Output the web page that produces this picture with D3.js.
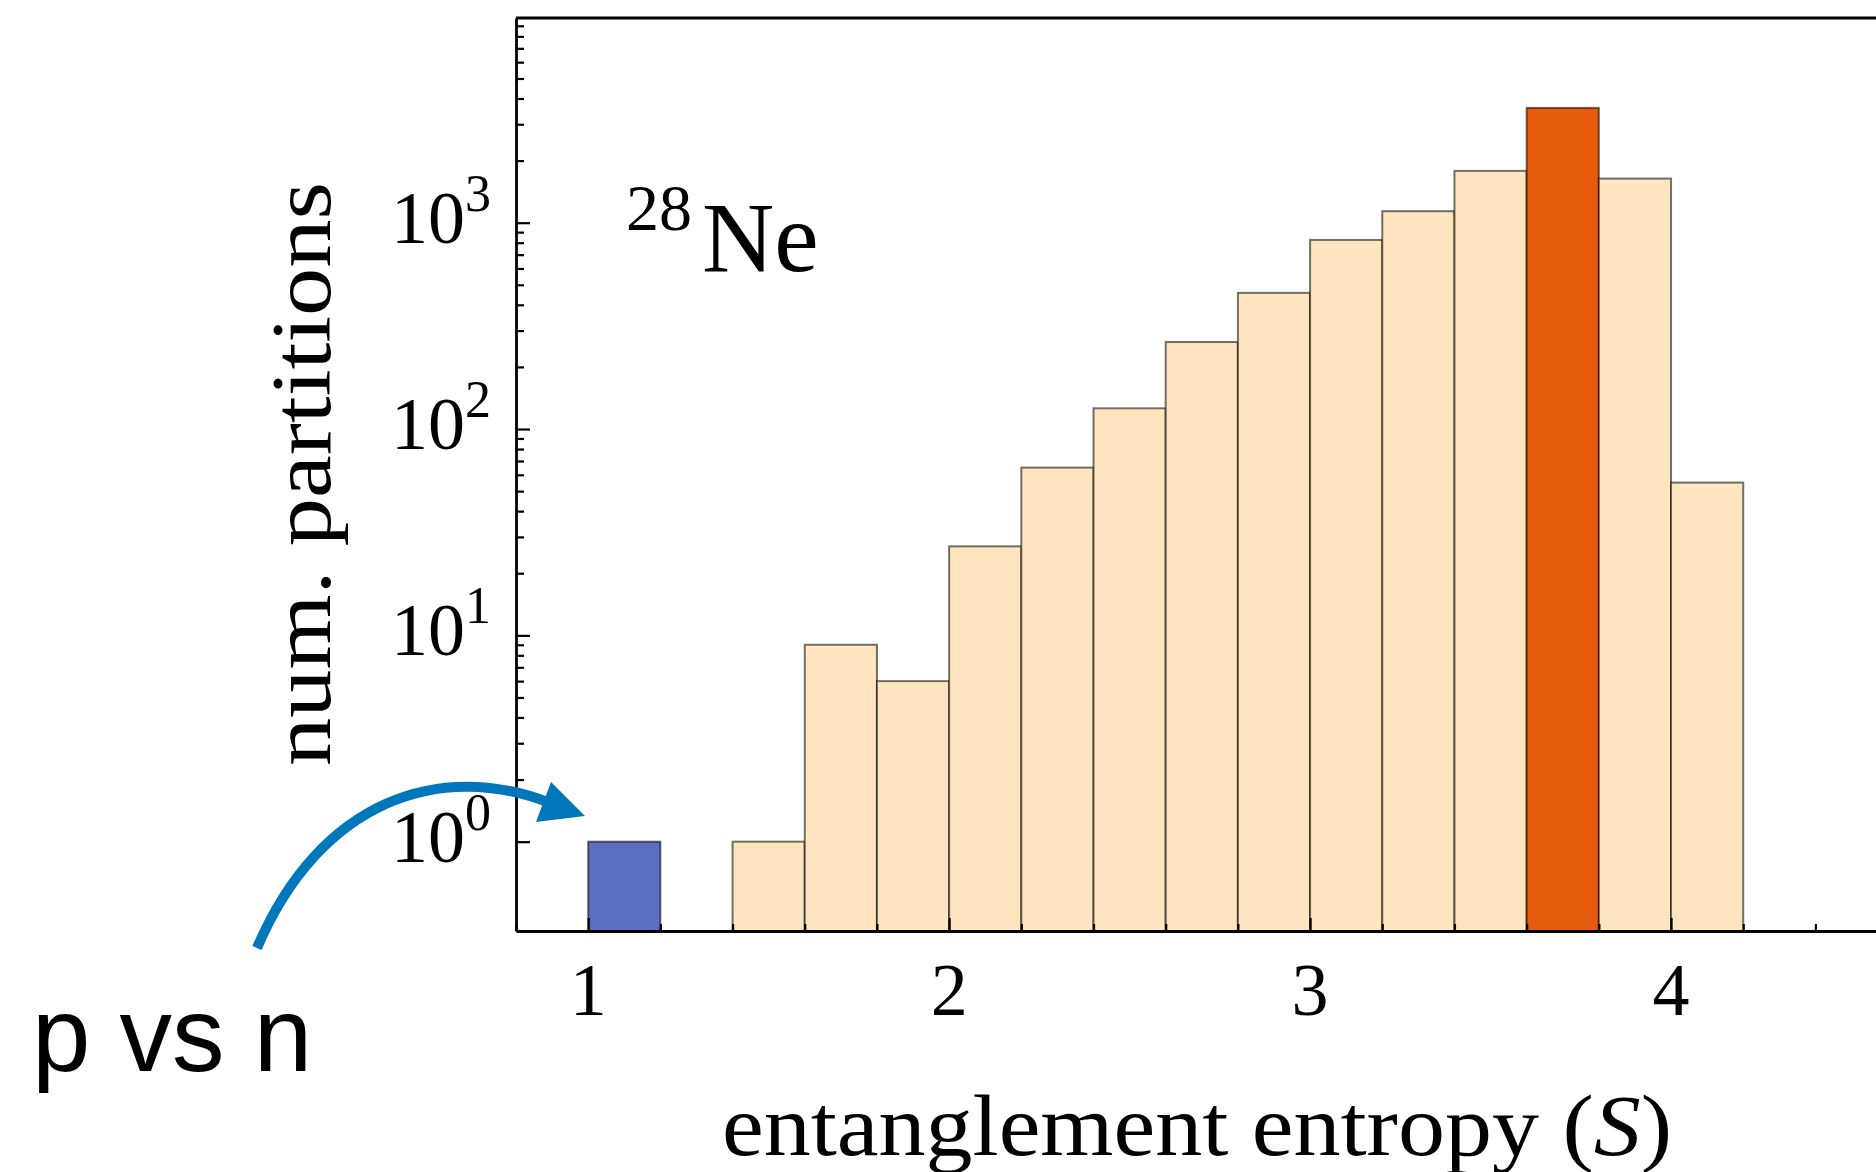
<!DOCTYPE html>
<html>
<head>
<meta charset="utf-8">
<script src="https://cdn.jsdelivr.net/npm/d3@7"></script>
<style>
  body { margin: 0; background: #fff; }
  svg { display: block; }
</style>
</head>
<body>
<div id="chart"></div>
<script>
// histogram of partitions for 28Ne, bins of width 0.2 in entropy S
const binStarts = [1.0, 1.2, 1.4, 1.6, 1.8, 2.0, 2.2, 2.4, 2.6, 2.8, 3.0, 3.2, 3.4, 3.6, 3.8, 4.0];
const binCounts = [1, 0, 1, 9, 6, 27, 65, 126, 264, 457, 825, 1137, 1783, 3602, 1636, 55];
// which bins are highlighted: "pn" = p vs n partition, "max" = most common bin
const binKind = ["pn", "rest", "rest", "rest", "rest", "rest", "rest", "rest",
                 "rest", "rest", "rest", "rest", "rest", "max", "rest", "rest"];
const binWidth = 0.2;

const xTicks = [1, 2, 3, 4];
const xMinorTicks = [0.8, 1.2, 1.4, 1.6, 1.8, 2.2, 2.4, 2.6, 2.8, 3.2, 3.4, 3.6, 3.8, 4.2, 4.4];
const yTicks = [1, 10, 100, 1000];
const yTickExp = ["0", "1", "2", "3"];
const yMinorTicks = [2, 3, 4, 5, 6, 7, 8, 9, 20, 30, 40, 50, 60, 70, 80, 90,
                     200, 300, 400, 500, 600, 700, 800, 900,
                     2000, 3000, 4000, 5000, 6000, 7000, 8000, 9000];

function drawChart() {
    let win_width = 1876;
    let win_height = 1172;

    // plot area (right side runs off the picture)
    let left = 516, top = 18, bottom = 931;

    let svg = d3.select("#chart")
        .append("svg")
        .attr("width", win_width)
        .attr("height", win_height);

    let x = d3.scaleLinear().domain([0.8, 4.6]).range([left, 1887.6]);
    let y = d3.scaleLog().domain([0.369, 9820]).range([bottom, top]);

    let color = d3.scaleOrdinal()
        .domain(["pn", "rest", "max"])
        .range(["#5e6ec2", "#fde6bf", "#e55c0f"]);

    let data = binStarts.map(function(s, i) {
        return {s: s, count: binCounts[i], kind: binKind[i]};
    }).filter(function(d) { return d.count > 0; });

    // bars
    svg.append("g").selectAll("rect")
        .data(data)
        .join("rect")
        .attr("x", function(d) { return x(d.s); })
        .attr("width", function(d) { return x(d.s + binWidth) - x(d.s); })
        .attr("y", function(d) { return y(d.count); })
        .attr("height", function(d) { return bottom - y(d.count); })
        .attr("fill", function(d) { return color(d.kind); })
        .attr("stroke", "#000")
        .attr("stroke-opacity", 0.55)
        .attr("stroke-width", 2);

    // axes: ticks point inward
    svg.append("g")
        .attr("transform", "translate(" + left + ",0)")
        .call(d3.axisLeft(y).tickValues(yTicks).tickSize(-14).tickSizeOuter(0).tickFormat(""));
    svg.append("g")
        .attr("transform", "translate(" + left + ",0)")
        .call(d3.axisLeft(y).tickValues(yMinorTicks).tickSize(-8).tickSizeOuter(0).tickFormat(""))
        .select(".domain").remove();

    svg.append("g")
        .attr("transform", "translate(0," + bottom + ")")
        .call(d3.axisBottom(x).tickValues(xTicks).tickSize(-13).tickSizeOuter(0).tickFormat(""));
    svg.append("g")
        .attr("transform", "translate(0," + bottom + ")")
        .call(d3.axisBottom(x).tickValues(xMinorTicks).tickSize(-7).tickSizeOuter(0).tickFormat(""))
        .select(".domain").remove();

    svg.selectAll(".tick line").attr("stroke", "#000").attr("stroke-width", 2.2);
    svg.selectAll(".domain").attr("stroke", "#000").attr("stroke-width", 2.8);

    // top frame line
    svg.append("line")
        .attr("x1", left).attr("x2", win_width)
        .attr("y1", top).attr("y2", top)
        .attr("stroke", "#000").attr("stroke-width", 2.8);

    let serif = "'Liberation Serif', 'Times New Roman', serif";

    // y tick labels 10^k
    let yl = svg.append("g").attr("font-family", serif).attr("fill", "#000");
    yTicks.forEach(function(v, i) {
        let t = yl.append("text")
            .attr("x", 491)
            .attr("y", y(v) + 20)
            .attr("text-anchor", "end")
            .attr("font-size", 74);
        t.append("tspan").text("10");
        t.append("tspan").attr("dy", -32).attr("font-size", 52).text(yTickExp[i]);
    });

    // x tick labels
    svg.append("g").selectAll("text")
        .data(xTicks)
        .join("text")
        .attr("x", function(d) { return x(d); })
        .attr("y", 1015)
        .attr("text-anchor", "middle")
        .attr("font-family", serif)
        .attr("font-size", 74)
        .text(function(d) { return d; });

    // axis titles
    let xt = svg.append("text")
        .attr("x", 722)
        .attr("y", 1155)
        .attr("font-family", serif)
        .attr("font-size", 86)
        .attr("textLength", 950)
        .attr("lengthAdjust", "spacingAndGlyphs");
    xt.append("tspan").text("entanglement entropy (");
    xt.append("tspan").attr("font-style", "italic").text("S");
    xt.append("tspan").text(")");

    svg.append("text")
        .attr("transform", "translate(330,474) rotate(-90)")
        .attr("text-anchor", "middle")
        .attr("font-family", serif)
        .attr("font-size", 84)
        .attr("textLength", 584)
        .attr("lengthAdjust", "spacingAndGlyphs")
        .text("num. partitions");

    // nucleus label
    let nt = svg.append("text")
        .attr("x", 626)
        .attr("y", 271)
        .attr("font-family", serif);
    nt.append("tspan").attr("font-size", 66).attr("dy", -41).text("28");
    nt.append("tspan").attr("font-size", 100).attr("dy", 41).attr("dx", 10).text("Ne");

    // annotation: arrow pointing at the p vs n bar
    let blue = "#0077bb";
    svg.append("path")
        .attr("d", "M257,948 C320,800 440,760 550,803")
        .attr("fill", "none")
        .attr("stroke", blue)
        .attr("stroke-width", 10);
    svg.append("path")
        .attr("d", "M585,816 L551,782 L536,822 Z")
        .attr("fill", blue);

    svg.append("text")
        .attr("x", 32)
        .attr("y", 1071)
        .attr("font-family", "'Liberation Sans', Arial, sans-serif")
        .attr("font-size", 105)
        .text("p vs n");
}

drawChart();
</script>
</body>
</html>
